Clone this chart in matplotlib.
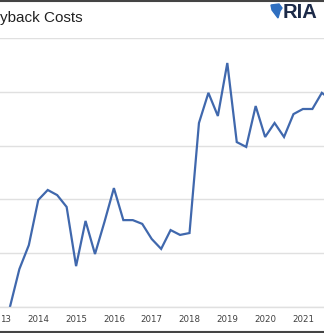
import matplotlib.pyplot as plt
from matplotlib.lines import Line2D
from matplotlib.patches import Polygon
import numpy as np

# квартальные значения, начиная со 2-го квартала 2013
costs = [0, 14.1, 23.0, 39.8, 43.5, 41.6, 37.2, 15.2, 32.0, 19.7, 31.6, 44.2,
         32.3, 32.3, 30.9, 25.3, 21.6, 28.6, 26.8, 27.5, 68.4, 79.6, 71.0, 90.7,
         61.3, 59.5, 74.7, 63.2, 68.4, 63.2, 71.7, 73.6, 73.6, 79.6, 77.0]
years = [2013, 2014, 2015, 2016, 2017, 2018, 2019, 2020, 2021]
# подписи так, как они видны на обрезанном исходнике
year_labels = ['13', '2014', '2015', '2016', '2017', '2018', '2019', '2020', '2021']

quarters = np.arange(1, len(costs) + 1)  # индекс квартала от 2013Q1

W, H = 324, 333
fig = plt.figure(figsize=(W / 100, H / 100), dpi=100)
ax = fig.add_axes([0, 0.078, 1, 0.808])

ax.plot(quarters, costs, color='#4068ad', linewidth=1.6, solid_joinstyle='miter')

ax.set_xlim(-0.05, 34.23)
ax.set_ylim(0, 100)
ax.set_yticks(np.arange(0, 101, 20))
ax.set_xticks([(y - 2013) * 4 for y in years])
ax.set_xticklabels(year_labels, fontsize=6.2, color='#404040')
ax.get_xticklabels()[0].set_horizontalalignment('left')
ax.tick_params(axis='x', length=0, pad=6)
ax.tick_params(axis='y', length=0, labelleft=False)
ax.grid(axis='y', color='#e0e0e0', linewidth=1.0)
ax.set_axisbelow(True)
for s in ['left', 'right', 'top']:
    ax.spines[s].set_visible(False)
ax.spines['bottom'].set_color('#e0e0e0')
ax.spines['bottom'].set_linewidth(1.0)

# заголовок (обрезан слева, как на исходнике)
fig.text(0.0, 0.947, 'yback Costs', fontsize=11, family='Liberation Sans',
         color='#222222', ha='left', va='center')

# логотип RIA
icon_px = [(271, 5), (279, 4), (282, 8), (280, 11), (278, 18), (275, 14), (272, 10)]
icon = Polygon([(x / W, 1 - y / H) for x, y in icon_px], closed=True,
               transform=fig.transFigure, color='#2f6fc0')
fig.add_artist(icon)
fig.text(283 / W, 1 - 12 / H, 'RIA', fontsize=14.5, fontweight='bold',
         family='Liberation Sans', color='#1c2a48', ha='left', va='center')

# рамка сверху и снизу
fig.add_artist(Line2D([0, 1], [0.998, 0.998], transform=fig.transFigure,
                      color='#444444', linewidth=1.5))
fig.add_artist(Line2D([0, 1], [0.004, 0.004], transform=fig.transFigure,
                      color='#444444', linewidth=1.5))

fig.savefig('out.png', dpi=100)
